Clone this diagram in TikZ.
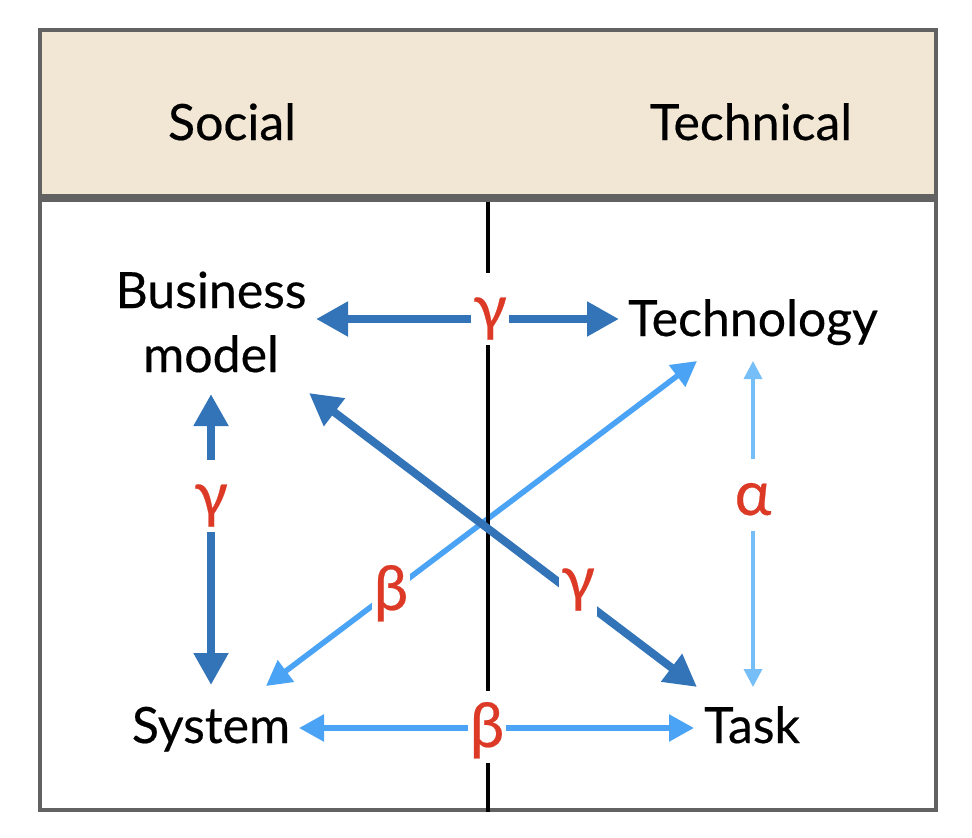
\documentclass[tikz,border=0pt]{standalone}
\usepackage{fontspec}
\setmainfont{Lato}[FakeBold=0.4]
\usetikzlibrary{arrows.meta}
\definecolor{frameGray}{RGB}{98,98,98}
\definecolor{headFill}{RGB}{242,231,213}
\definecolor{darkBlue}{RGB}{51,116,184}
\definecolor{lightBlue}{RGB}{74,163,245}
\definecolor{paleBlue}{RGB}{118,190,247}
\definecolor{labelRed}{RGB}{220,58,38}
\tikzset{
  x=1bp, y=-1bp,
  word/.style={font=\fontsize{50bp}{64bp}\selectfont, inner sep=0pt, text=black},
  greek/.style={font=\fontsize{62bp}{64bp}\selectfont, text=labelRed, fill=white,
    inner xsep=2bp, inner ysep=0pt, text height=56bp, text depth=16bp},
  darkarrow/.style={draw=darkBlue, line width=8bp,
    {Triangle[length=32bp,width=33bp]}-{Triangle[length=32bp,width=33bp]}},
  lightarrow/.style={draw=lightBlue, line width=5.5bp,
    {Triangle[length=25bp,width=26bp]}-{Triangle[length=25bp,width=26bp]}},
  palearrow/.style={draw=paleBlue, line width=3.5bp,
    {Triangle[length=18bp,width=18bp]}-{Triangle[length=18bp,width=18bp]}},
  divider/.style={draw=black, line width=4bp},
}
\begin{document}
\begin{tikzpicture}
\useasboundingbox (0,0) rectangle (972,838);
% frame and header
\fill[headFill] (40,30) rectangle (936,198);
\draw[frameGray, line width=4.5bp] (40,30) rectangle (936,810);
\draw[frameGray, line width=8bp] (38,198) -- (938,198);
\node[word, anchor=base] (social) at (232,140) {Social};
\node[word, anchor=base] (technical) at (751,140) {Technical};

% concept nodes
\node[word, align=center] (bm) at (211,322) {Business\\model};
\node[word, anchor=base] (tech) at (753,336) {Technology};
\node[word, anchor=base] (sys) at (211,743) {System};
\node[word, anchor=base] (task) at (752,743) {Task};

% arrow end points
\coordinate (bmE) at (316,319);
\coordinate (techW) at (619,319);
\coordinate (bmS) at (211,394);
\coordinate (sysN) at (211,685);
\coordinate (bmSE) at (309,393);
\coordinate (taskNW) at (697,687);
\coordinate (sysNE) at (266,686);
\coordinate (techSW) at (697,361);
\coordinate (sysE) at (299,728);
\coordinate (taskW) at (694,728);
\coordinate (techS) at (753,361);
\coordinate (taskN) at (753,687);
\coordinate (divTop) at (488,202);
\coordinate (divBot) at (488,812);

% connectors
\draw[lightarrow] (sysNE) -- (techSW);
\draw[divider] (divTop) -- (divBot);
\draw[darkarrow] (bmE) -- (techW);
\draw[darkarrow] (bmS) -- (sysN);
\draw[darkarrow] (bmSE) -- (taskNW);
\draw[lightarrow] (sysE) -- (taskW);
\draw[palearrow] (techS) -- (taskN);

% labels
\node[greek, anchor=base] (g1) at (490,329) {γ};
\node[greek, anchor=base] (g2) at (211,516) {γ};
\node[greek, anchor=base] (g3) at (578,600) {γ};
\node[greek, anchor=base] (a1) at (753,515) {α};
\node[greek, anchor=base] (b1) at (391,610) {β};
\node[greek, anchor=base] (b2) at (487,747) {β};
\end{tikzpicture}
\end{document}
